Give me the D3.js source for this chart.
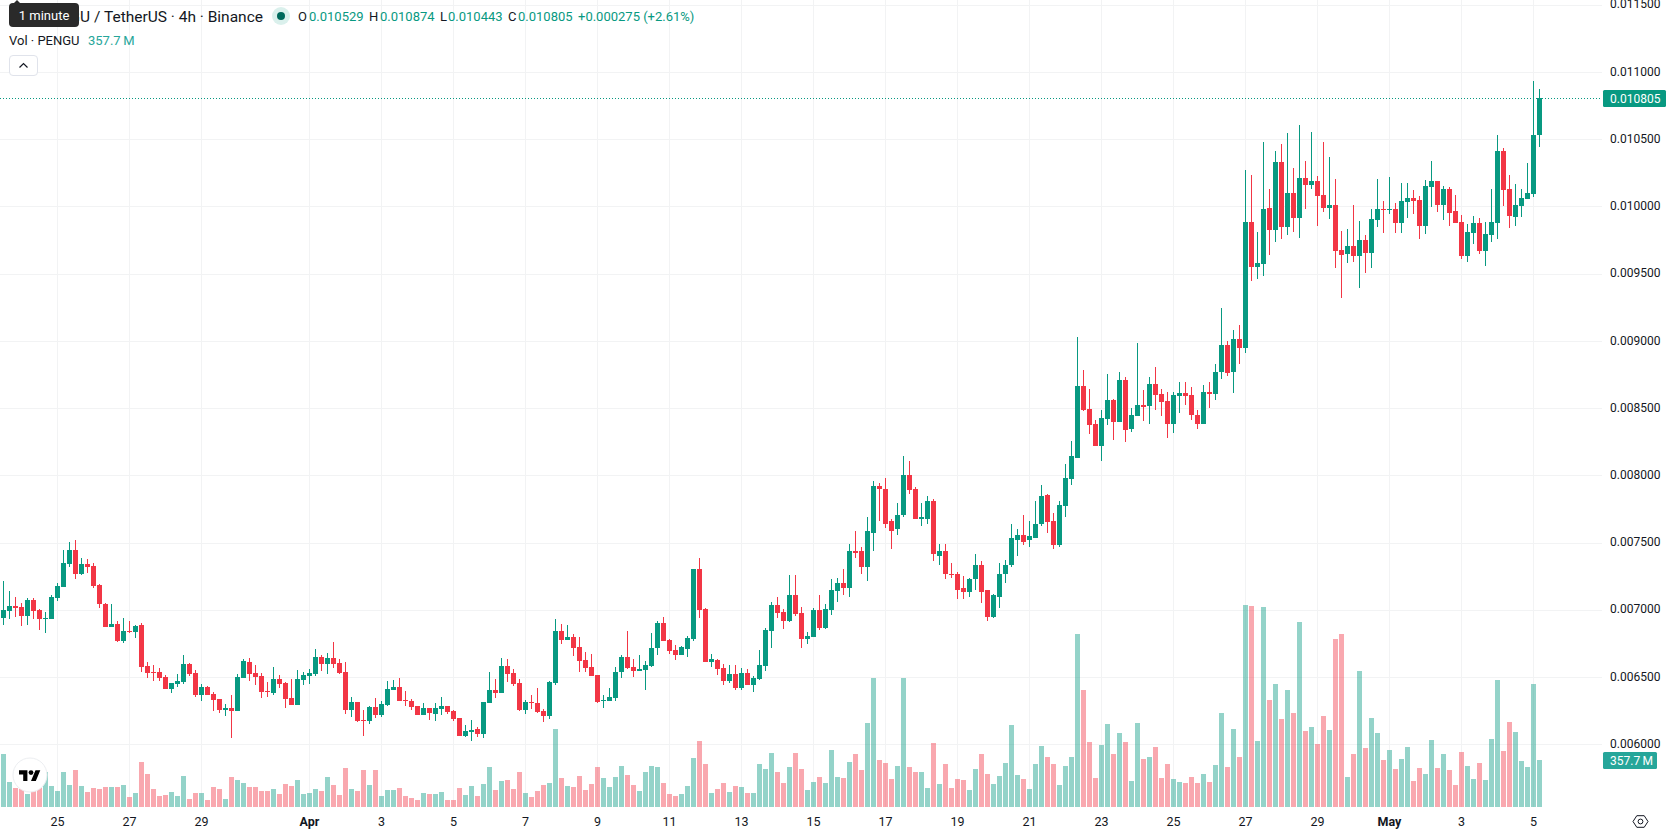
<!DOCTYPE html>
<html>
<head>
<meta charset="utf-8">
<title>PENGU / TetherUS 4h</title>
<script src="https://cdn.jsdelivr.net/npm/d3@7"></script>
<style>
  html, body { margin: 0; padding: 0; background: #fff; overflow: hidden; }
  svg { display: block; }
  text { font-family: Roboto, "Noto Sans", sans-serif; fill: #131722; }
</style>
</head>
<body>
<svg id="chart" width="1678" height="835"></svg>
<script>
// Candle prices in millionths of a USDT, one candle every four hours.
const opens = [
  6940,6992,7029,7022,6955,7074,6999,6932,6932,7089,
  7171,7342,7446,7267,7342,7327,7185,7044,6873,6895,
  6769,6843,6836,6888,6583,6538,6538,6501,6412,6449,
  6464,6598,6531,6367,6427,6374,6337,6255,6270,6248,
  6494,6612,6531,6508,6397,6382,6486,6456,6345,6293,
  6479,6508,6523,6650,6598,6642,6605,6538,6255,6315,
  6181,6174,6278,6218,6293,6404,6427,6330,6322,6285,
  6218,6270,6226,6263,6285,6248,6196,6062,6092,6114,
  6077,6307,6404,6382,6583,6531,6456,6255,6315,6307,
  6248,6211,6456,6843,6776,6799,6724,6627,6575,6516,
  6322,6322,6345,6538,6650,6575,6546,6553,6583,6717,
  6903,6776,6702,6665,6709,6784,7304,7007,6612,6627,
  6568,6471,6523,6419,6531,6441,6486,6583,6843,7037,
  6985,6918,7111,6977,6784,6799,6999,6866,6999,7141,
  7203,7166,7441,7434,7315,7575,7918,7895,7657,7598,
  7702,8000,7895,7672,7679,7806,7404,7441,7270,7263,
  7159,7136,7226,7330,7144,6950,7099,7263,7330,7523,
  7560,7516,7538,7635,7851,7657,7479,7769,7970,8129,
  8665,8494,8382,8219,8419,8561,8397,8710,8345,8442,
  8524,8516,8680,8605,8553,8382,8591,8613,8598,8449,
  8382,8620,8605,8769,8970,8769,9015,8947,9882,9547,
  9569,9986,9822,10328,9845,10097,9911,10209,10157,10187,
  10083,9986,10008,9673,9644,9703,9629,9748,9651,9897,
  9978,9971,9978,9874,10030,10060,10045,9852,10142,10187,
  10008,10127,9964,9882,9629,9800,9874,9666,9785,9874,
  10410,10127,9919,10000,10053,10095,10529
];
const closes = [
  6999,7029,7014,6955,7074,6992,6932,6940,7096,7178,
  7349,7446,7267,7342,7319,7178,7044,6873,6895,6769,
  6843,6836,6880,6575,6531,6531,6494,6412,6456,6471,
  6598,6523,6367,6427,6367,6330,6255,6270,6248,6501,
  6620,6523,6501,6389,6389,6486,6449,6337,6293,6486,
  6516,6531,6650,6598,6642,6598,6531,6255,6315,6174,
  6174,6278,6218,6300,6412,6427,6322,6322,6278,6218,
  6270,6233,6270,6285,6241,6188,6062,6099,6107,6077,
  6315,6404,6382,6583,6523,6449,6255,6315,6307,6241,
  6211,6464,6843,6776,6799,6717,6620,6568,6508,6315,
  6330,6352,6538,6650,6568,6546,6560,6590,6717,6903,
  6769,6694,6665,6724,6791,7304,6999,6612,6635,6560,
  6471,6523,6419,6531,6441,6494,6590,6851,7037,6977,
  6918,7111,6970,6784,6806,6999,6866,7007,7148,7200,
  7159,7441,7426,7315,7583,7918,7895,7642,7590,7709,
  8000,7888,7672,7687,7806,7412,7441,7263,7263,7151,
  7136,7233,7330,7136,6950,7107,7270,7337,7531,7560,
  7508,7546,7642,7843,7650,7479,7776,7977,8141,8665,
  8486,8375,8219,8427,8561,8397,8710,8338,8449,8524,
  8509,8680,8598,8546,8382,8598,8613,8591,8449,8382,
  8620,8605,8769,8970,8762,9015,8948,9882,9547,9577,
  9978,9822,10328,9845,10097,9911,10209,10157,10187,10075,
  9986,10008,9666,9636,9703,9629,9748,9651,9904,9978,
  9971,9978,9874,10038,10060,10038,9852,10150,10187,10008,
  10127,9949,9874,9629,9807,9874,9666,9792,9882,10410,
  10120,9926,10008,10060,10097,10529,10805
];
const highs = [
  7215,7141,7096,7049,7089,7089,7007,6985,7111,7200,
  7446,7505,7520,7386,7379,7349,7193,7051,7044,6918,
  6940,6918,6888,6903,6612,6590,6568,6516,6456,6523,
  6665,6605,6553,6449,6434,6389,6337,6300,6367,6523,
  6635,6642,6590,6531,6464,6575,6516,6464,6486,6553,
  6538,6560,6709,6665,6679,6761,6635,6612,6352,6315,
  6255,6285,6345,6322,6471,6479,6494,6397,6337,6285,
  6307,6270,6307,6352,6285,6255,6196,6144,6181,6129,
  6315,6538,6486,6642,6635,6560,6486,6330,6367,6419,
  6263,6471,6932,6895,6888,6821,6799,6687,6672,6516,
  6367,6419,6575,6665,6843,6635,6665,6620,6828,6918,
  6947,6784,6739,6732,6806,7304,7386,7014,6672,6635,
  6598,6590,6590,6568,6560,6508,6702,6865,7059,7096,
  7007,7260,7260,7022,6836,7014,7111,7044,7230,7237,
  7307,7486,7590,7464,7694,7955,7940,7984,7672,7791,
  8141,8104,7910,7798,7843,7821,7486,7486,7352,7285,
  7248,7240,7412,7360,7151,7121,7352,7367,7642,7598,
  7709,7657,7813,7932,7858,7717,7806,8081,8252,9030,
  8784,8643,8412,8486,8754,8568,8769,8732,8501,8985,
  8635,8732,8806,8643,8620,8620,8695,8695,8658,8486,
  8672,8695,8829,9245,9000,9082,9119,10269,10231,9807,
  10477,10127,10410,10462,10544,10283,10603,10336,10551,10224,
  10477,10365,10202,9815,9830,10008,9889,9785,9978,10202,
  10038,10217,10023,10172,10172,10120,10075,10194,10336,10187,
  10150,10142,10083,9934,9867,9926,9911,9882,10127,10529,
  10432,10231,10164,10127,10321,10933,10874
];
const lows = [
  6888,6932,6947,6880,6888,6932,6851,6828,6932,7066,
  7171,7319,7230,7260,7275,7163,7014,6873,6873,6764,
  6754,6828,6791,6538,6494,6471,6471,6412,6382,6427,
  6449,6508,6352,6322,6367,6248,6233,6211,6047,6248,
  6494,6471,6441,6345,6352,6367,6419,6270,6293,6293,
  6441,6449,6508,6546,6523,6568,6523,6226,6203,6166,
  6062,6151,6196,6203,6285,6404,6322,6285,6255,6218,
  6218,6181,6174,6218,6226,6174,6062,6055,6025,6055,
  6047,6307,6345,6382,6464,6434,6248,6226,6263,6233,
  6166,6188,6441,6746,6776,6657,6538,6538,6508,6307,
  6270,6322,6322,6494,6560,6501,6546,6404,6575,6665,
  6769,6672,6627,6665,6650,6769,6940,6612,6575,6516,
  6441,6456,6404,6404,6441,6389,6479,6546,6717,6940,
  6858,6910,6955,6717,6746,6799,6851,6858,6962,7059,
  7107,7099,7389,7263,7218,7434,7657,7605,7456,7560,
  7687,7858,7672,7627,7642,7360,7330,7233,7240,7077,
  7084,7092,7151,7054,6920,6943,7017,7196,7315,7404,
  7479,7464,7538,7627,7568,7449,7471,7694,7932,8129,
  8479,8308,8219,8107,8375,8263,8397,8248,8323,8442,
  8405,8382,8486,8442,8278,8315,8464,8524,8412,8345,
  8382,8501,8561,8717,8739,8613,8829,8910,9443,9458,
  9480,9636,9733,9755,9785,9807,9763,9978,10127,9852,
  9956,9904,9539,9316,9577,9584,9391,9502,9539,9845,
  9800,9941,9800,9800,9911,9941,9755,9792,9993,9956,
  9897,9852,9874,9606,9584,9718,9644,9554,9733,9755,
  10001,9837,9852,9919,10053,10070,10443
];
// Traded volume per candle, in millions of PENGU.
const volumes = [
  403,190,145,137,99,129,160,266,160,122,
  266,167,282,160,114,145,137,152,152,152,
  167,76,107,342,251,137,84,91,114,84,
  236,61,107,107,53,152,137,61,228,205,
  183,152,152,122,122,137,99,175,160,205,
  99,107,137,122,228,167,91,297,137,122,
  282,167,282,84,129,129,145,84,68,53,
  107,99,99,114,53,53,145,91,160,84,
  175,304,129,198,205,137,266,107,76,122,
  167,183,594,221,160,152,236,129,175,304,
  221,152,228,312,244,167,122,266,312,304,
  183,99,84,99,160,373,502,327,107,137,
  183,114,160,152,107,107,327,289,411,266,
  183,304,411,289,129,190,228,183,434,228,
  218,340,401,279,637,979,355,332,211,310,
  979,302,264,264,142,485,173,325,142,211,
  203,127,287,401,249,173,233,332,622,241,
  211,134,325,462,378,325,165,310,378,1316,
  888,492,218,469,629,401,561,492,195,637,
  363,378,454,218,325,211,188,180,226,180,
  249,188,317,713,302,591,378,1537,1530,502,
  1522,814,936,670,890,715,1408,578,609,479,
  693,586,1279,1317,228,403,1035,449,677,563,
  358,434,289,365,457,198,297,251,510,297,
  403,282,167,419,312,213,335,205,518,967,
  426,647,571,350,304,936,357.7
];

// Axis content
const priceTicks = [0.006,0.0065,0.007,0.0075,0.008,0.0085,0.009,0.0095,0.01,0.0105,0.011,0.0115];
const dateTicks = [
  "2025-03-25","2025-03-27","2025-03-29","2025-04-01","2025-04-03","2025-04-05",
  "2025-04-07","2025-04-09","2025-04-11","2025-04-13","2025-04-15","2025-04-17",
  "2025-04-19","2025-04-21","2025-04-23","2025-04-25","2025-04-27","2025-04-29",
  "2025-05-01","2025-05-03","2025-05-05"
].map(d => new Date(d + "T00:00:00Z"));

const firstCandle = new Date("2025-03-23T12:00:00Z");
const times = opens.map((_, i) => d3.utcHour.offset(firstCandle, 4 * i));
const candles = times.map((t, i) => ({
  t,
  o: opens[i] / 1e6,
  h: highs[i] / 1e6,
  l: lows[i] / 1e6,
  c: closes[i] / 1e6,
  v: volumes[i]
}));

// Legend text
const legendSymbol = "PENGU / TetherUS · 4h · Binance";
const changeLabel = "+0.000275 (+2.61%)";
const last = candles[candles.length - 1];
const fmtPrice = d3.format(".6f");
const volLabel = last.v + "\u2009M";

const GREEN = "#089981", RED = "#f23645", VOL_TEAL = "#26a69a", GRID = "#f2f3f4", INK = "#131722";

const paneRight = 1602;
const svg = d3.select("#chart");

const x = d3.scaleUtc().domain([times[0], times[times.length - 1]]).range([3.5, 1539.5]);
const y = d3.scaleLinear().domain([0.006, 0.011]).range([744.3, 72]);
const yVol = d3.scaleLinear().domain([0, 1550]).range([807, 603.3]);

const snap = v => Math.round(v);

// Gridlines sit under everything
const grid = svg.append("g").attr("shape-rendering", "crispEdges");
grid.selectAll("line.h").data(priceTicks).join("line").attr("class", "h")
  .attr("x1", 0).attr("x2", paneRight)
  .attr("y1", d => snap(y(d)) + 0.5).attr("y2", d => snap(y(d)) + 0.5)
  .attr("stroke", GRID);
grid.selectAll("line.v").data(dateTicks).join("line").attr("class", "v")
  .attr("x1", d => Math.floor(x(d)) + 0.5).attr("x2", d => Math.floor(x(d)) + 0.5)
  .attr("y1", 0).attr("y2", 807)
  .attr("stroke", GRID);

// Volume histogram
svg.append("g").attr("shape-rendering", "crispEdges")
  .selectAll("rect").data(candles).join("rect")
  .attr("x", d => x(d.t) - 2.5)
  .attr("width", 5)
  .attr("y", d => snap(yVol(d.v)))
  .attr("height", d => 807 - snap(yVol(d.v)))
  .attr("fill", d => d.c >= d.o ? GREEN : RED)
  .attr("fill-opacity", 0.43);

// Candles: wick first, body on top
const candleG = svg.append("g").attr("shape-rendering", "crispEdges")
  .selectAll("g").data(candles).join("g")
  .attr("fill", d => d.c >= d.o ? GREEN : RED);
candleG.append("rect")
  .attr("x", d => x(d.t) - 0.5)
  .attr("width", 1)
  .attr("y", d => snap(y(d.h)))
  .attr("height", d => Math.max(1, snap(y(d.l)) - snap(y(d.h))));
candleG.append("rect")
  .attr("x", d => x(d.t) - 2.5)
  .attr("width", 5)
  .attr("y", d => snap(y(Math.max(d.o, d.c))))
  .attr("height", d => Math.max(1, snap(y(Math.min(d.o, d.c))) - snap(y(Math.max(d.o, d.c)))));

// Last-price line
const lastY = snap(y(last.c)) + 0.5;
svg.append("line")
  .attr("x1", 0).attr("x2", paneRight)
  .attr("y1", lastY).attr("y2", lastY)
  .attr("stroke", GREEN).attr("stroke-dasharray", "1 2");

// Price scale
const priceAxis = d3.axisRight(y).tickValues(priceTicks).tickSize(0).tickPadding(0).tickFormat(fmtPrice);
svg.append("g").attr("transform", "translate(1610,-0.7)").call(priceAxis)
  .call(g => g.select(".domain").remove())
  .call(g => g.selectAll("text").attr("font-size", 12).style("font-family", "Roboto").attr("fill", INK));

svg.append("rect").attr("x", 1603).attr("y", lastY - 8.5).attr("width", 63).attr("height", 17).attr("rx", 1.5).attr("fill", GREEN);
svg.append("text").attr("x", 1610).attr("y", lastY + 4.2).attr("font-size", 12).style("fill", "#fff").text(fmtPrice(last.c));

const volY = snap(yVol(last.v));
svg.append("rect").attr("x", 1603).attr("y", volY - 8).attr("width", 54).attr("height", 17).attr("rx", 1.5).attr("fill", VOL_TEAL);
svg.append("text").attr("x", 1610).attr("y", volY + 4.7).attr("font-size", 12).style("fill", "#fff").text(volLabel);

// Time scale: months in bold, days as plain numbers
const timeAxis = d3.axisBottom(x).tickValues(dateTicks).tickSize(0).tickPadding(0)
  .tickFormat(d => d.getUTCDate() === 1 ? d3.utcFormat("%b")(d) : d3.utcFormat("%-d")(d));
svg.append("g").attr("transform", "translate(-0.5,817.5)").call(timeAxis)
  .call(g => g.select(".domain").remove())
  .call(g => g.selectAll("text")
    .attr("font-size", 12.5).attr("dy", "0.71em").style("font-family", "Roboto").attr("fill", INK)
    .attr("font-weight", d => d.getUTCDate() === 1 ? 700 : 400));

// Settings glyph in the corner
const gear = svg.append("g").attr("transform", "translate(1640.5,821.5)").attr("fill", "none").attr("stroke", INK).attr("stroke-width", 1);
gear.append("path").attr("d", d3.line()([[-7.5, 0], [-3.7, -5.8], [3.7, -5.8], [7.5, 0], [3.7, 5.8], [-3.7, 5.8]]) + "Z");
gear.append("circle").attr("r", 2.4);

// Attribution badge
const badge = svg.append("g");
badge.append("circle").attr("cx", 30).attr("cy", 775).attr("r", 17).attr("fill", "#fff").attr("stroke", "#eceef1").attr("stroke-width", 1);
const logo = badge.append("g").attr("transform", "translate(19,767.8) scale(0.6)").attr("fill", "#000");
logo.append("path").attr("d", "M14 22H7V11H0V4h14v18zM28 22h-8l7.5-18h8L28 22z");
logo.append("circle").attr("cx", 20).attr("cy", 8).attr("r", 4);

// Legend rows
const legend = svg.append("g");
legend.append("text").attr("x", 263).attr("y", 22).attr("text-anchor", "end").attr("font-size", 15.5).text(legendSymbol);

legend.append("circle").attr("cx", 281).attr("cy", 16).attr("r", 9).attr("fill", GREEN).attr("fill-opacity", 0.15);
legend.append("circle").attr("cx", 281).attr("cy", 16).attr("r", 4).attr("fill", "#00695c");

const ohlcRow = [
  ["O", 298, last.o, 309],
  ["H", 369, last.h, 380],
  ["L", 440, last.l, 448],
  ["C", 508, last.c, 518]
];
ohlcRow.forEach(([name, nx, value, vx]) => {
  legend.append("text").attr("x", nx).attr("y", 21).attr("font-size", 13).text(name);
  legend.append("text").attr("x", vx).attr("y", 21).attr("font-size", 13).style("fill", GREEN).text(fmtPrice(value));
});
legend.append("text").attr("x", 578).attr("y", 21).attr("font-size", 13).style("fill", GREEN).text(changeLabel);

legend.append("text").attr("x", 9).attr("y", 45).attr("font-size", 13).text("Vol · PENGU");
legend.append("text").attr("x", 88).attr("y", 45).attr("font-size", 13).style("fill", VOL_TEAL).text(volLabel);

// Collapse button
legend.append("rect").attr("x", 9.5).attr("y", 55.5).attr("width", 28).attr("height", 20).attr("rx", 3.5)
  .attr("fill", "#fff").attr("stroke", "#e0e3eb");
legend.append("path").attr("d", d3.line()([[19.5, 67.5], [23.5, 63.5], [27.5, 67.5]]))
  .attr("fill", "none").attr("stroke", INK).attr("stroke-width", 1.2);

// Tooltip over the symbol name
legend.append("path").attr("d", d3.line()([[13, 4], [17, 0], [21, 4]])).attr("fill", "#2a2a2a");
legend.append("rect").attr("x", 9).attr("y", 3).attr("width", 70).attr("height", 24).attr("rx", 4).attr("fill", "#2a2a2a");
legend.append("text").attr("x", 44).attr("y", 20).attr("text-anchor", "middle").attr("font-size", 13).style("fill", "#fff").text("1 minute");
</script>
</body>
</html>
